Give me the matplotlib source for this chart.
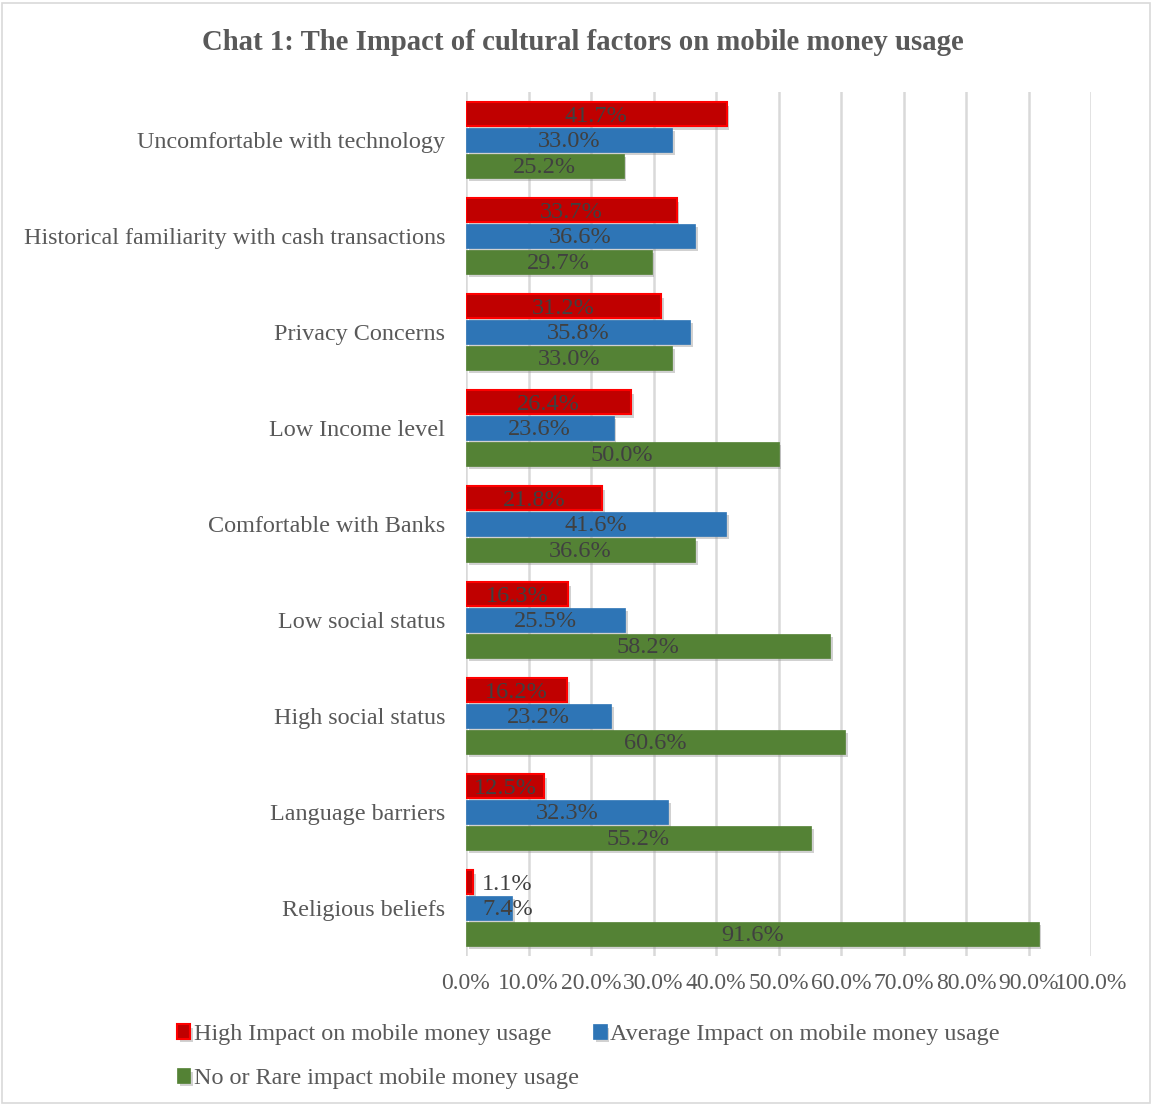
import matplotlib
matplotlib.use("Agg")
import matplotlib.pyplot as plt
import matplotlib.patheffects as pe
from matplotlib.patches import Rectangle
import numpy as np

categories = [
    "Uncomfortable with technology",
    "Historical familiarity with cash transactions",
    "Privacy Concerns",
    "Low Income level",
    "Comfortable with Banks",
    "Low social status",
    "High social status",
    "Language barriers",
    "Religious beliefs",
]
high_impact = [41.7, 33.7, 31.2, 26.4, 21.8, 16.3, 16.2, 12.5, 1.1]
average_impact = [33.0, 36.6, 35.8, 23.6, 41.6, 25.5, 23.2, 32.3, 7.4]
no_rare_impact = [25.2, 29.7, 33.0, 50.0, 36.6, 58.2, 60.6, 55.2, 91.6]
series_names = [
    "High Impact on mobile money usage",
    "Average Impact on mobile money usage",
    "No or Rare impact mobile money usage",
]
x_ticks = [0, 10, 20, 30, 40, 50, 60, 70, 80, 90, 100]
x_tick_labels = ["0.0%", "10.0%", "20.0%", "30.0%", "40.0%", "50.0%",
                 "60.0%", "70.0%", "80.0%", "90.0%", "100.0%"]
title = "Chat 1: The Impact of cultural factors on mobile money usage"

plt.rcParams['font.family'] = ['Liberation Serif', 'DejaVu Serif']

W, H = 1153, 1105
fig = plt.figure(figsize=(W / 100, H / 100), dpi=100)
fig.patch.set_facecolor("white")
fig.add_artist(Rectangle((2 / W, 2 / H), (W - 5) / W, (H - 5) / H,
                         transform=fig.transFigure, fill=False,
                         edgecolor="#D9D9D9", linewidth=1.2))

ax = fig.add_axes([466 / W, 1 - 956 / H, 625 / W, 864 / H])

y = np.arange(len(categories))
bh = 0.25
off = 0.27
shadow = [pe.SimplePatchShadow(offset=(2, -2.5), shadow_rgbFace="#8c8c8c", alpha=0.4), pe.Normal()]

bars_h = ax.barh(y - off, high_impact, height=bh, color="#C00000",
                 edgecolor="#FF0000", linewidth=1.5, label=series_names[0], zorder=3)
bars_a = ax.barh(y, average_impact, height=bh, color="#2E75B6",
                 edgecolor="#2E75B6", linewidth=0.5, label=series_names[1], zorder=3)
bars_n = ax.barh(y + off, no_rare_impact, height=bh, color="#548235",
                 edgecolor="#548235", linewidth=0.5, label=series_names[2], zorder=3)
for bars in (bars_h, bars_a, bars_n):
    for b in bars:
        b.set_path_effects(shadow)

for vals, yy in ((high_impact, y - off), (average_impact, y), (no_rare_impact, y + off)):
    for v, yc in zip(vals, yy):
        if v < 10:
            ax.text(2.6, yc + 0.02, f"{v:.1f}%", ha="left", va="center",
                    fontsize=17.5, color="#404040", zorder=5)
        else:
            ax.text(v / 2, yc + 0.02, f"{v:.1f}%", ha="center", va="center",
                    fontsize=17.5, color="#404040", zorder=5)

ax.set_xlim(0, 100)
ax.set_ylim(len(categories) - 0.5, -0.5)
ax.set_xticks(x_ticks)
ax.set_xticklabels(x_tick_labels, fontsize=17, color="#595959")
ax.set_yticks(y)
ax.set_yticklabels(categories, fontsize=17.4, color="#595959")
ax.tick_params(axis="both", length=0)
ax.tick_params(axis="y", pad=15)
ax.tick_params(axis="x", pad=12)
ax.grid(axis="x", color="#D9D9D9", linewidth=1.8, zorder=0)
ax.set_axisbelow(True)
for s in ax.spines.values():
    s.set_visible(False)

fig.text(583 / W, 1 - 43 / H, title, ha="center", va="center",
         fontsize=20.7, fontweight="bold", color="#595959")

handles = [bars_h, bars_n, bars_a]
labels = [series_names[0], series_names[2], series_names[1]]
leg = fig.legend(handles, labels, ncol=2, loc="upper left",
                 bbox_to_anchor=(177 / W, 1 - 1024 / H), frameon=False,
                 fontsize=17.4, handlelength=0.55, handleheight=0.55,
                 handletextpad=0.15, columnspacing=0.6, labelspacing=0.95,
                 borderpad=0, borderaxespad=0)
for t in leg.get_texts():
    t.set_color("#595959")

fig.savefig("out.png", dpi=100)
